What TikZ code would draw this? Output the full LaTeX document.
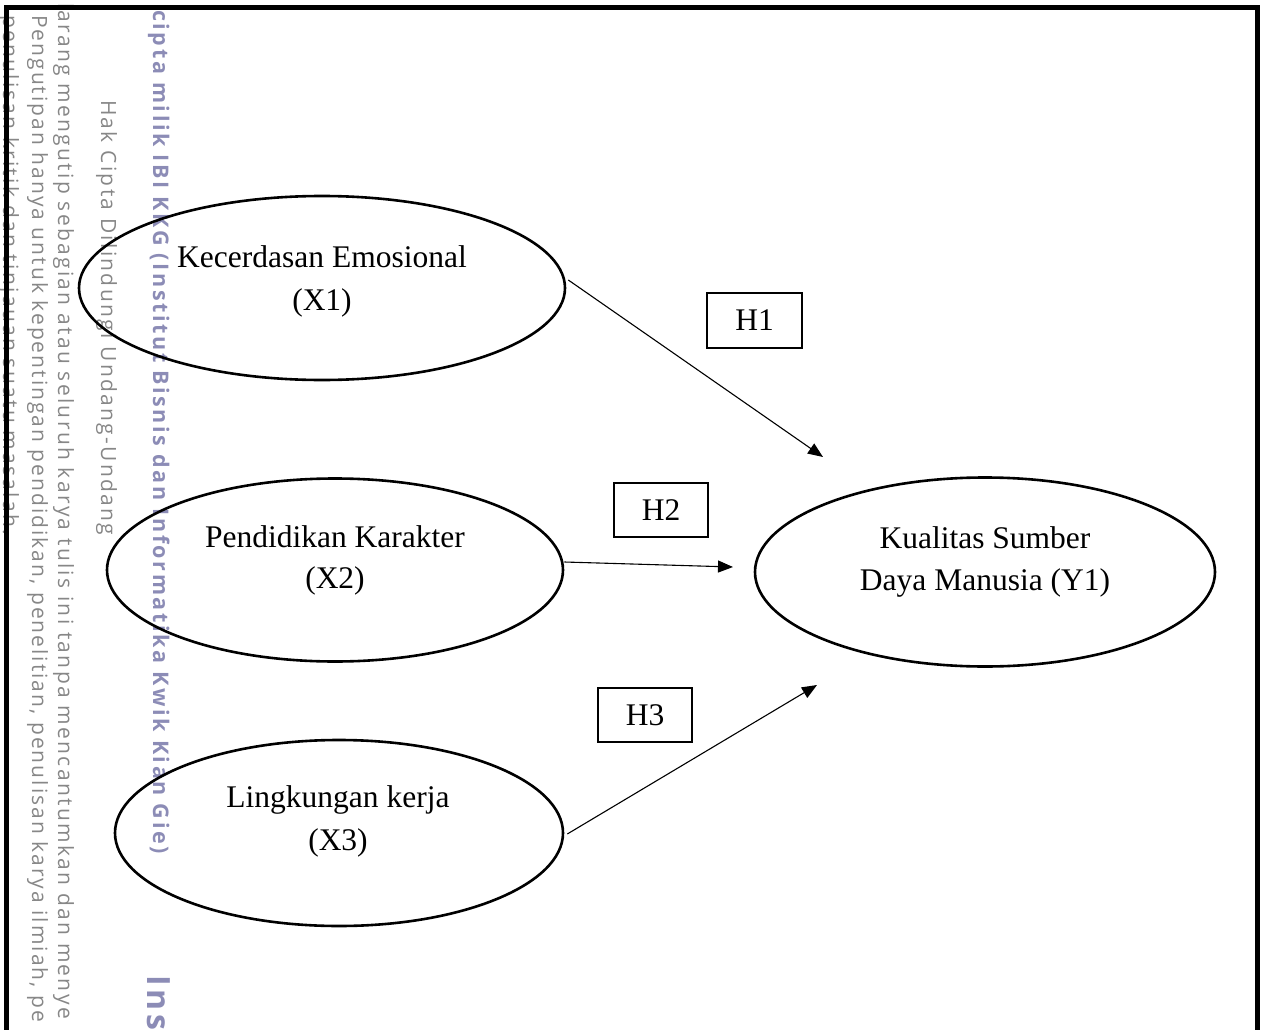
\documentclass[tikz,border=0pt]{standalone}
\usepackage{fontspec}
\setmainfont{Liberation Serif}
\newfontfamily\wmfont[LetterSpace=11]{Open Sans}
\newfontfamily\wmfonttight[LetterSpace=9.6]{Open Sans}
\newfontfamily\wmboldfont[LetterSpace=12]{Open Sans}
\usetikzlibrary{arrows.meta,shapes.geometric}
\definecolor{wmgray}{RGB}{135,135,135}
\definecolor{wmpurple}{RGB}{140,140,182}
\tikzset{
  latent/.style={draw, ellipse, line width=2.6pt, inner sep=0pt},
  hbox/.style={draw, rectangle, line width=2pt, inner sep=0pt,
    font=\fontsize{31.5}{38}\selectfont},
  lbl/.style={anchor=base, inner sep=0pt, font=\fontsize{31.5}{38}\selectfont},
  conn/.style={line width=1.1pt, -{Triangle[length=15pt,width=12pt]}},
  wmthin/.style={rotate=-90, anchor=base west, inner sep=0pt, text=wmgray,
    font=\wmfont\fontsize{21}{21}\selectfont},
  wmbold/.style={rotate=-90, anchor=base west, inner sep=0pt, text=wmpurple,
    font=\wmboldfont\bfseries\fontsize{21.5}{21.5}\selectfont},
  frameline/.style={line width=5pt, miter limit=10}
}
\begin{document}
\begin{tikzpicture}[x=1pt,y=-1pt]
\useasboundingbox (0,0) rectangle (1261,1030);
\begin{scope}
\clip (0,0) rectangle (1261,1030);
% watermark
\node[wmthin] (w1) at (3,15) {penulisan kritik dan tinjauan suatu masalah.};
\node[wmthin, font=\wmfonttight\fontsize{21}{21}\selectfont] (w2) at (32,15) {Pengutipan hanya untuk kepentingan pendidikan, penelitian, penulisan karya ilmiah, pe};
\node[wmthin] (w3) at (58,3) {larang mengutip sebagian atau seluruh karya tulis ini tanpa mencantumkan dan menye};
\node[wmthin] (w4) at (101,100) {Hak Cipta Dilindungi Undang-Undang};
\node[wmbold] (w5) at (153,10) {cipta milik IBI KKG (Institut Bisnis dan Informatika Kwik Kian Gie)};
\node[wmbold, font=\wmboldfont\bfseries\fontsize{32}{32}\selectfont] (w6) at (147,975) {Ins};
% frame
\draw[frameline] (6.5,1045) -- (6.5,7.5) -- (1257.5,7.5) -- (1257.5,1045);
\end{scope}

% latent variables
\node[latent, minimum width=486pt, minimum height=184pt] (E1) at (322,288) {};
\node[latent, minimum width=456pt, minimum height=183pt] (E2) at (335,570) {};
\node[latent, minimum width=448pt, minimum height=186pt] (E3) at (339,833) {};
\node[latent, minimum width=460pt, minimum height=189pt] (E4) at (985,572) {};

% labels
\node[lbl] (t1a) at (322,267) {Kecerdasan Emosional};
\node[lbl] (t1b) at (322,310) {(X1)};
\node[lbl] (t2a) at (335,547) {Pendidikan Karakter};
\node[lbl] (t2b) at (335,588) {(X2)};
\node[lbl] (t3a) at (338,807) {Lingkungan kerja};
\node[lbl] (t3b) at (338,850) {(X3)};
\node[lbl] (t4a) at (985,548) {Kualitas Sumber};
\node[lbl] (t4b) at (985,590) {Daya Manusia (Y1)};

% hypothesis boxes
\node[hbox, minimum width=95pt, minimum height=55pt] (H1) at (754.5,320.5) {H1};
\node[hbox, minimum width=94pt, minimum height=54pt] (H2) at (661,510) {H2};
\node[hbox, minimum width=94pt, minimum height=54pt] (H3) at (645,715) {H3};

% arrows
\coordinate (A1e) at (823,457);
\coordinate (A2e) at (733,567);
\coordinate (A3e) at (817,685);
\draw[conn] ([yshift=8pt,xshift=2pt]E1.east) -- (A1e);
\draw[conn] ([yshift=8pt]E2.east) -- (A2e);
\draw[conn] ([xshift=3pt,yshift=-1pt]E3.east) -- (A3e);
\end{tikzpicture}
\end{document}
